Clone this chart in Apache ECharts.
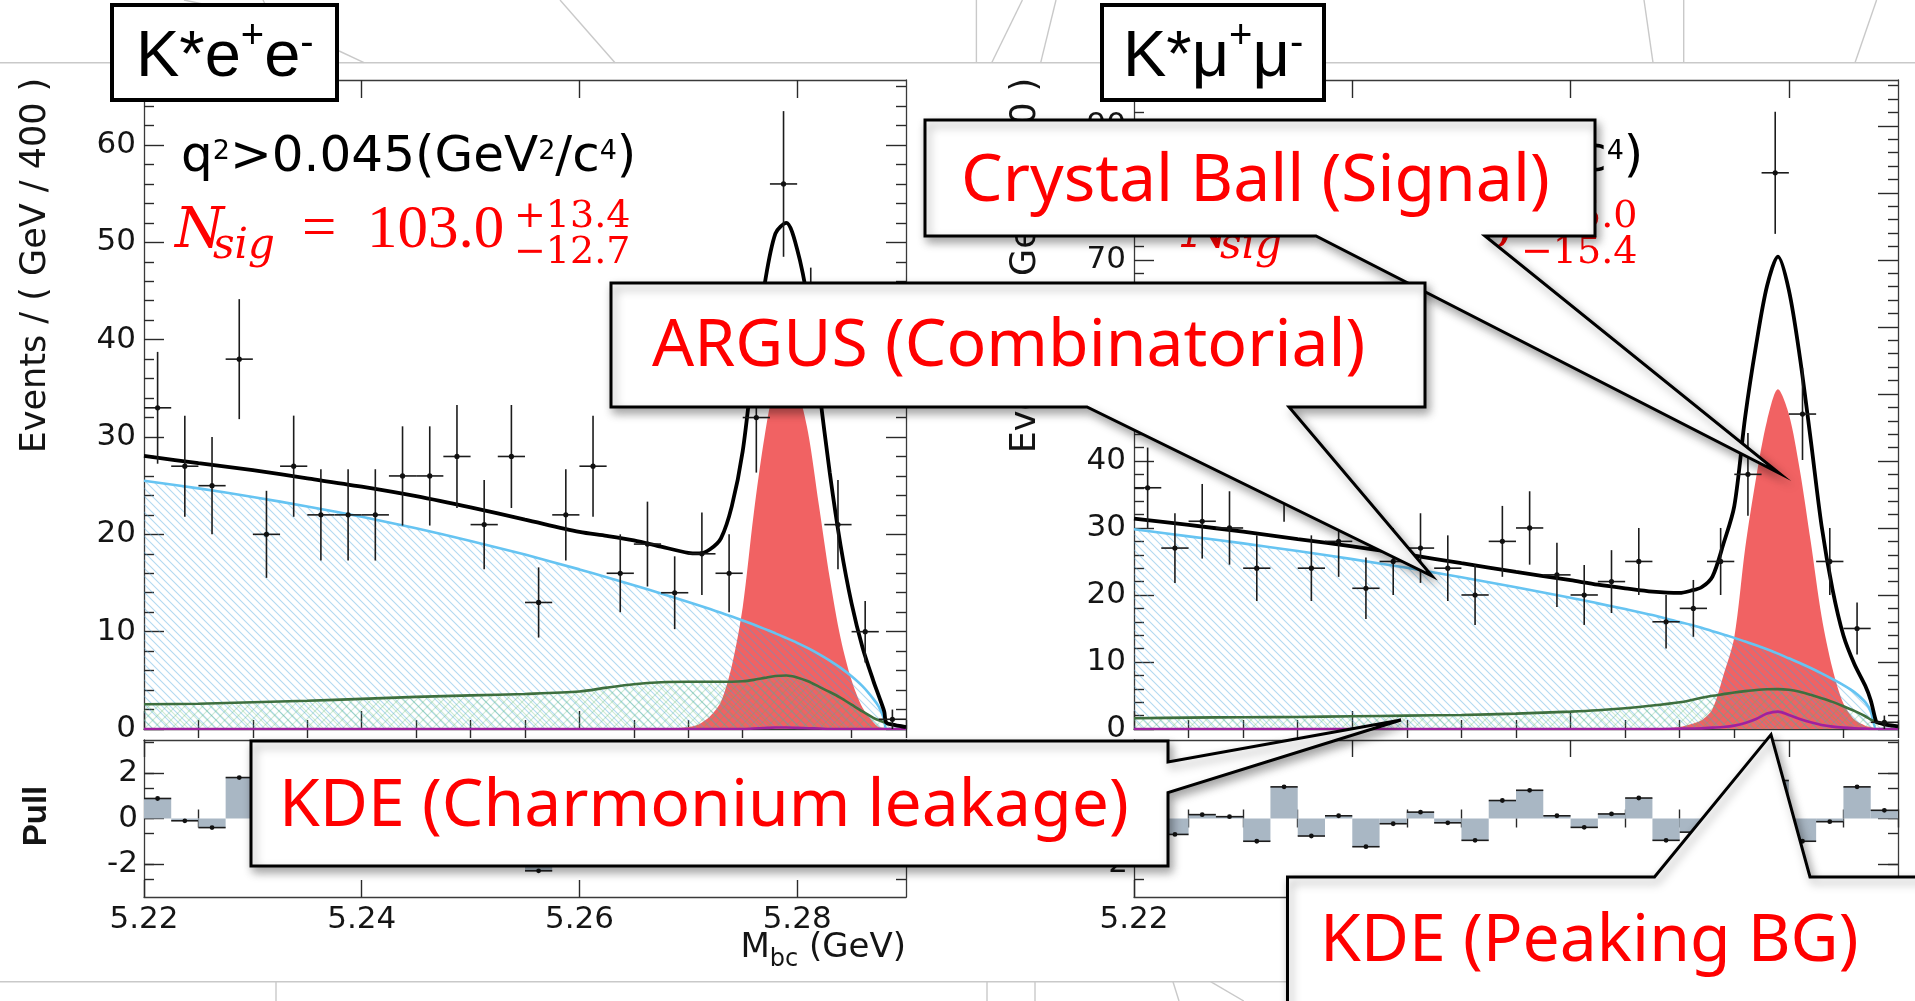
<!DOCTYPE html>
<html>
<head>
<meta charset="utf-8">
<script src="https://cdn.jsdelivr.net/npm/echarts@6/dist/echarts.min.js"></script>
<style>
  html, body { margin: 0; padding: 0; background: #fff; }
  #chart { width: 1915px; height: 1001px; }
</style>
</head>
<body>
<div id="chart"></div>
<script>
// ---- Mbc binning (GeV) ----
const X_MIN = 5.22, X_MAX = 5.29, BIN_W = 0.0025;

// ---- event counts per bin (28 bins) ----
const KEE_COUNTS = [33, 27, 25, 38, 20, 27, 22, 22, 22, 26, 26, 28, 21, 28, 13, 22, 27, 16, 19, 14, 18, 16, 32, 56, 41, 21, 10, 1];
const KMM_COUNTS = [36, 27, 31, 30, 24, 37, 24, 28, 21, 25, 27, 24, 20, 28, 30, 23, 20, 22, 25, 16, 18, 25, 38, 83, 47, 25, 15, 1];

// ---- pulls per bin ----
const KEE_PULLS = [0.88, -0.1, -0.4, 1.8, -1.4, 0.2, -0.77, -0.66, -0.58, 0.35, 0.45, 0.93, -0.33, 1.15, -2.3, 0.28, 1.3, -0.95, -0.07, -1.2, -0.07, -1.5, -0.7, 0.67, -0.15, 0.2, 0.3, 0.2];
const KMM_PULLS = [0.8, -0.7, 0.17, 0.08, -1.0, 1.39, -0.77, 0.12, -1.24, -0.23, 0.28, -0.19, -0.96, 0.79, 1.24, 0.12, -0.39, 0.2, 0.9, -0.96, -0.6, 0.3, -1.1, 1.67, -1.0, -0.14, 1.39, 0.36];

// ---- fitted model components, sampled in Mbc ----
const CURVE_X = [5.220, 5.225, 5.230, 5.235, 5.240, 5.245, 5.250, 5.255, 5.260, 5.2625, 5.265, 5.2675,
                 5.270, 5.271, 5.272, 5.273, 5.274, 5.275, 5.276, 5.277, 5.278, 5.279, 5.280, 5.281,
                 5.282, 5.283, 5.284, 5.285, 5.286, 5.287, 5.2875, 5.288, 5.2882, 5.289, 5.290];

const KEE_ARGUS  = [25.5, 24.72, 23.84, 22.86, 21.8, 20.62, 19.32, 17.92, 16.4, 15.6, 14.78, 13.93,
                    13.05, 12.69, 12.32, 11.94, 11.55, 11.15, 10.73, 10.29, 9.83, 9.35, 8.85, 8.3,
                    7.7, 7.03, 6.28, 5.42, 4.4, 3.1, 2.3, 1.0, 0, 0, 0];
const KEE_CHARM  = [2.55, 2.6, 2.75, 2.9, 3.1, 3.3, 3.45, 3.6, 3.85, 4.25, 4.6, 4.8,
                    4.85, 4.85, 4.85, 4.85, 4.85, 4.9, 5.05, 5.25, 5.45, 5.5, 5.3, 4.9,
                    4.35, 3.8, 3.2, 2.5, 1.8, 1.15, 0.9, 0.7, 0.65, 0.4, 0.2];
const KEE_SIGNAL = [0, 0, 0, 0, 0, 0, 0, 0, 0, 0, 0, 0,
                    0.2, 0.5, 1.3, 2.8, 6.5, 12.5, 22.0, 30.0, 35.5, 37.0, 35.0, 30.5,
                    23.0, 15.5, 9.3, 5.0, 2.2, 0.7, 0.2, 0.1, 0, 0, 0];
const KEE_PEAK   = [0, 0, 0, 0, 0, 0, 0, 0, 0, 0, 0, 0,
                    0, 0, 0, 0, 0, 0, 0.05, 0.1, 0.15, 0.15, 0.12, 0.08,
                    0.05, 0, 0, 0, 0, 0, 0, 0, 0, 0, 0];
const KEE_TOTAL  = [28.05, 27.32, 26.59, 25.76, 24.9, 23.92, 22.77, 21.52, 20.25, 19.85, 19.38, 18.73,
                    18.1, 18.04, 18.47, 19.59, 22.9, 28.55, 37.8, 45.6, 50.9, 52.0, 49.3, 43.8,
                    35.1, 26.3, 18.8, 12.9, 8.4, 4.95, 3.4, 1.8, 0.65, 0.4, 0.2];

const KMM_ARGUS  = [29.8, 28.75, 27.7, 26.55, 25.35, 24.05, 22.65, 21.15, 19.6, 18.75, 17.9, 17.0,
                    15.95, 15.55, 15.1, 14.6, 14.1, 13.6, 13.05, 12.5, 11.9, 11.25, 10.55, 9.85,
                    9.1, 8.3, 7.45, 6.55, 5.5, 4.0, 2.6, 0, 0, 0, 0];
const KMM_CHARM  = [1.6, 1.7, 1.75, 1.8, 1.9, 2.0, 2.1, 2.3, 2.6, 2.8, 3.1, 3.5,
                    4.0, 4.3, 4.65, 4.95, 5.2, 5.45, 5.65, 5.82, 5.93, 5.95, 5.85, 5.55,
                    5.1, 4.6, 4.05, 3.4, 2.7, 1.9, 1.4, 1.0, 0.9, 0.6, 0.4];
const KMM_SIGNAL = [0, 0, 0, 0, 0, 0, 0, 0, 0, 0, 0, 0,
                    0.3, 0.7, 1.3, 3.0, 8.0, 13.7, 27.0, 37.5, 46.0, 50.7, 47.0, 38.7,
                    28.0, 16.8, 9.0, 3.8, 1.4, 0.5, 0.3, 0.1, 0.05, 0, 0];
const KMM_PEAK   = [0, 0, 0, 0, 0, 0, 0, 0, 0, 0, 0, 0,
                    0.05, 0.08, 0.1, 0.2, 0.3, 0.5, 0.9, 1.5, 2.3, 2.6, 2.1, 1.5,
                    1.0, 0.6, 0.35, 0.2, 0.1, 0.05, 0, 0, 0, 0, 0];
const KMM_TOTAL  = [31.4, 30.45, 29.45, 28.35, 27.25, 26.05, 24.75, 23.45, 22.2, 21.55, 21.0, 20.5,
                    20.3, 20.63, 21.15, 22.75, 27.6, 33.25, 46.6, 57.3, 66.1, 70.5, 65.5, 55.6,
                    43.2, 30.3, 20.85, 13.95, 9.7, 6.45, 4.3, 1.1, 0.95, 0.6, 0.4];

// ---- axis ranges and tick values ----
const KEE_Y_MAX = 66.68, KMM_Y_MAX = 96.85, PULL_LIM = 3.45;
const X_MAJOR = [5.22, 5.24, 5.26, 5.28];
const KEE_Y_MAJOR = [0, 10, 20, 30, 40, 50, 60];
const KMM_Y_MAJOR = [0, 10, 20, 30, 40, 50, 60, 70, 80, 90];
const PULL_MAJOR = [-2, 0, 2];

function minorTicks(start, end, step, majorEvery) {
  const out = [];
  for (let k = 0; start + k * step <= end + 1e-9; k++) {
    if (k % majorEvery !== 0) out.push(+(start + k * step).toFixed(4));
  }
  return out;
}
const X_MINOR = minorTicks(5.22, 5.29, 0.005, 4);
const KEE_Y_MINOR = minorTicks(0, 66, 2, 5);
const KMM_Y_MINOR = minorTicks(0, 96, 2, 5);
const PULL_MINOR = minorTicks(-10 / 3, 10 / 3, 2 / 3, 3);

// ---- hatch fills ----
function hatch(color, size, dirs) {
  const c = document.createElement('canvas');
  c.width = c.height = size;
  const g = c.getContext('2d');
  g.strokeStyle = color;
  g.lineWidth = 1.1;
  const seg = (a, b, p, q) => { g.beginPath(); g.moveTo(a, b); g.lineTo(p, q); g.stroke(); };
  if (dirs.includes('\\')) {
    seg(-1, -1, size + 1, size + 1);
    seg(size - 1, -1, size + 1, 1);
    seg(-1, size - 1, 1, size + 1);
  }
  if (dirs.includes('/')) {
    seg(-1, size + 1, size + 1, -1);
    seg(-1, 1, 1, -1);
    seg(size - 1, size + 1, size + 1, size - 1);
  }
  return { image: c, repeat: 'repeat' };
}
const BLUE_HATCH = hatch('rgba(70,165,220,0.42)', 8, ['\\']);
const GREEN_HATCH = hatch('rgba(90,185,115,0.3)', 9, ['\\', '/']);

// ---- axes ----
const FRAME = { show: true, onZero: false, lineStyle: { color: '#3a3a3a', width: 1.3 } };
const TICK_STYLE = { color: '#2a2a2a', width: 1.4 };
const LABEL_BASE = { fontFamily: 'DejaVu Sans', fontSize: 31, color: '#151515' };
const xAxes = [], yAxes = [];

function axisSet(list, base, gridIndex, sides, majors, minors, majLen, minLen, label) {
  let first = -1;
  sides.forEach((pos, k) => {
    [[majors, majLen], [minors, minLen]].forEach(([vals, len], m) => {
      list.push(Object.assign({}, base, {
        gridIndex, position: pos,
        axisLine: m === 0 ? FRAME : { show: false },
        axisTick: { show: true, inside: true, length: len, customValues: vals, lineStyle: TICK_STYLE },
        axisLabel: (k === 0 && m === 0 && label) ? Object.assign({ show: true, customValues: majors }, LABEL_BASE, label) : { show: false },
        splitLine: { show: false },
        axisPointer: { show: false }
      }));
      if (first < 0) first = list.length - 1;
    });
  });
  return first;
}

const X_BASE = { type: 'value', min: X_MIN, max: X_MAX };
const fmtX = v => v.toFixed(2);
const fmtY = v => String(Math.round(v));
const fmtPull = v => (v < 0 ? '-' + Math.round(-v) : String(Math.round(v)));

const AX = [];
// 0: K* e e main, 1: K* e e pull, 2: K* mu mu main, 3: K* mu mu pull
[[KEE_Y_MAX, KEE_Y_MAJOR, KEE_Y_MINOR], [KMM_Y_MAX, KMM_Y_MAJOR, KMM_Y_MINOR]].forEach(([ymax, yMaj, yMin], p) => {
  const gMain = p * 2, gPull = p * 2 + 1;
  AX[gMain] = {
    x: axisSet(xAxes, X_BASE, gMain, ['bottom', 'top'], X_MAJOR, X_MINOR, 18, 9, null),
    y: axisSet(yAxes, { type: 'value', min: 0, max: ymax }, gMain, ['left', 'right'], yMaj, yMin, 20, 10,
               { margin: 8, formatter: fmtY })
  };
  AX[gPull] = {
    x: axisSet(xAxes, X_BASE, gPull, ['bottom', 'top'], X_MAJOR, X_MINOR, 17, 9,
               { margin: 7, formatter: fmtX }),
    y: axisSet(yAxes, { type: 'value', min: -PULL_LIM, max: PULL_LIM }, gPull, ['left', 'right'], PULL_MAJOR, PULL_MINOR, 20, 10,
               { margin: 6, formatter: fmtPull })
  };
});

// ---- series ----
function curve(g, ys, line, area, z) {
  const s = {
    type: 'line', xAxisIndex: AX[g].x, yAxisIndex: AX[g].y,
    data: CURVE_X.map((x, i) => [x, ys[i]]),
    showSymbol: false, symbol: 'none', smooth: 0.3,
    lineStyle: line, z, silent: true, animation: false
  };
  if (area) s.areaStyle = area;
  return s;
}

function dataPoints(g, counts) {
  return {
    type: 'custom', xAxisIndex: AX[g].x, yAxisIndex: AX[g].y, z: 7, silent: true, animation: false,
    data: counts.map((n, i) => [X_MIN + (i + 0.5) * BIN_W, n]),
    renderItem(params, api) {
      const xc = api.value(0), n = api.value(1), e = Math.sqrt(n), h = BIN_W / 2;
      const L = api.coord([xc - h, n]), R = api.coord([xc + h, n]);
      const T = api.coord([xc, n + e]), B = api.coord([xc, Math.max(n - e, 0)]), C = api.coord([xc, n]);
      const st = { stroke: '#1c1c1c', lineWidth: 1.6 };
      return {
        type: 'group', children: [
          { type: 'line', shape: { x1: L[0], y1: L[1], x2: R[0], y2: R[1] }, style: st },
          { type: 'line', shape: { x1: T[0], y1: T[1], x2: B[0], y2: B[1] }, style: st },
          { type: 'circle', shape: { cx: C[0], cy: C[1], r: 2.6 }, style: { fill: '#111' } }
        ]
      };
    }
  };
}

function pullBars(g, pulls) {
  return {
    type: 'custom', xAxisIndex: AX[g].x, yAxisIndex: AX[g].y, z: 4, silent: true, animation: false,
    data: pulls.map((p, i) => [X_MIN + (i + 0.5) * BIN_W, p]),
    renderItem(params, api) {
      const xc = api.value(0), p = api.value(1), h = BIN_W / 2;
      const A = api.coord([xc - h, 0]), Bc = api.coord([xc + h, p]), C = api.coord([xc, p]);
      const L = api.coord([xc - h, p]);
      return {
        type: 'group', children: [
          { type: 'rect', shape: { x: Math.min(A[0], Bc[0]), y: Math.min(A[1], Bc[1]), width: Math.abs(Bc[0] - A[0]), height: Math.abs(Bc[1] - A[1]) },
            style: { fill: '#a9b7c4' } },
          { type: 'line', shape: { x1: L[0], y1: L[1], x2: Bc[0], y2: Bc[1] }, style: { stroke: '#1c1c1c', lineWidth: 1.6 } },
          { type: 'circle', shape: { cx: C[0], cy: C[1], r: 2.4 }, style: { fill: '#111' } }
        ]
      };
    }
  };
}

const series = [];
[[0, KEE_ARGUS, KEE_CHARM, KEE_SIGNAL, KEE_PEAK, KEE_TOTAL, KEE_COUNTS, 1, KEE_PULLS],
 [2, KMM_ARGUS, KMM_CHARM, KMM_SIGNAL, KMM_PEAK, KMM_TOTAL, KMM_COUNTS, 3, KMM_PULLS]].forEach(
  ([g, argus, charm, signal, peak, total, counts, gp, pulls]) => {
    series.push(curve(g, signal, { width: 0, opacity: 0 }, { color: '#f16263', opacity: 1 }, 2));
    series.push(curve(g, argus, { color: '#66c4f2', width: 2.6 }, { color: BLUE_HATCH, opacity: 1 }, 3));
    series.push(curve(g, charm, { color: '#3e6f3e', width: 2.6 }, { color: GREEN_HATCH, opacity: 1 }, 4));
    series.push(curve(g, peak, { color: '#a0209f', width: 2.6 }, null, 5));
    series.push(curve(g, total, { color: '#000', width: 3.8 }, null, 6));
    series.push(dataPoints(g, counts));
    series.push(pullBars(gp, pulls));
  });

// ---- text helpers ----
const mctx = document.createElement('canvas').getContext('2d');
const MID = { 'DejaVu Sans': 0.346, 'DejaVu Serif': 0.346, 'Liberation Serif': 0.3375,
              'Liberation Sans': 0.3465, 'Noto Sans': 0.388 };
function fontStr(p) { return (p.i ? 'italic ' : '') + (p.bold ? 'bold ' : '') + p.s + 'px "' + p.f + '"'; }
function measure(p) { mctx.font = fontStr(p); return mctx.measureText(p.t).width; }
function textEl(p, x, z) {
  return {
    type: 'text', x, y: p.b - MID[p.f] * p.s, z, silent: true,
    style: { text: p.t, fontSize: p.s, fontFamily: p.f, fontStyle: p.i ? 'italic' : 'normal',
             fontWeight: p.bold ? 'bold' : 'normal', fill: p.c || '#000',
             align: 'left', verticalAlign: 'middle', textAlign: 'left', textVerticalAlign: 'middle' }
  };
}
function chain(x0, pieces, z) {
  let x = x0;
  return pieces.map(p => { const el = textEl(p, x, z); x += measure(p); return el; });
}
function rotated(str, x, y, fs, fam, z, bold) {
  return {
    type: 'text', x, y, rotation: Math.PI / 2, z, silent: true,
    style: { text: str, fontSize: fs, fontFamily: fam, fontWeight: bold ? 'bold' : 'normal', fill: '#141414',
             align: 'center', verticalAlign: 'middle', textAlign: 'center', textVerticalAlign: 'middle' }
  };
}

const PANEL_SHIFT = 990;          // frame offset of the K* mu mu panel
const NOTE_SHIFT = 1007;          // offset of its in-frame annotations
const RED = '#ff0000';
const elements = [];

// faint slide decoration lines
[[0, 62.7, 1915, 62.7], [184, 0, 212, 6], [263, 0, 266, 6], [337, 50, 364, 62.7], [560, 0, 615, 62.7],
 [976.4, 0, 976.4, 62.7], [991.7, 62.7, 1022.4, 0], [1040.7, 62.7, 1056, 0], [1653, 62.7, 1644, 0],
 [1683.7, 0, 1683.7, 62.7], [1855, 62.7, 1876.6, 0],
 [0, 981.7, 1300, 981.7], [276, 981.7, 276, 1001], [987, 981.7, 987, 1001], [1035, 981.7, 1035, 1001],
 [1173, 981.7, 1179, 1001], [1210.6, 981.7, 1243.8, 1001]].forEach(([a, b, c, d]) => {
  elements.push({ type: 'line', z: 0, silent: true, shape: { x1: a, y1: b, x2: c, y2: d },
                  style: { stroke: '#c9c9c9', lineWidth: 1.4 } });
});

[0, PANEL_SHIFT].forEach(dx => {
  // the pull pad hides the lower part of the main panel's "0" label
  elements.push({ type: 'rect', z: 1, silent: true, shape: { x: 60 + dx, y: 737.5, width: 83, height: 4.5 }, style: { fill: '#fff' } });
  elements.push(rotated('Events / ( GeV / 400 )', 36 + dx, 265.5, 35, 'DejaVu Sans', 40));
  elements.push(rotated('Pull', 37 + dx, 816, 33, 'Liberation Sans', 40, true));
  const mbc = [
    { t: 'M', s: 34, b: 960, f: 'DejaVu Sans', c: '#141414' },
    { t: 'bc', s: 24, b: 968, f: 'DejaVu Sans', c: '#141414' },
    { t: ' (GeV)', s: 34, b: 960, f: 'DejaVu Sans', c: '#141414' }
  ];
  const w = mbc.reduce((acc, p) => acc + measure(p), 0);
  elements.push(...chain(906 + dx - w, mbc, 40));
});

// q^2 selection and fitted yield
[[0, '103.0', '+13.4', '\u221212.7'], [NOTE_SHIFT, '128.0', '+15.0', '\u221215.4']].forEach(([dx, nsig, up, dn]) => {
  const F = 'DejaVu Sans';
  elements.push(...chain(181 + dx, [
    { t: 'q', s: 50, b: 175, f: F }, { t: '2', s: 27, b: 161, f: F },
    { t: '>0.045(GeV', s: 50, b: 175, f: F }, { t: '2', s: 27, b: 161, f: F },
    { t: '/c', s: 50, b: 175, f: F }, { t: '4', s: 27, b: 161, f: F },
    { t: ')', s: 50, b: 175, f: F }
  ], 40));
  elements.push(textEl({ t: 'N', s: 56, b: 252, f: 'DejaVu Serif', i: true, c: RED }, 175 + dx, 40));
  elements.push(textEl({ t: 'sig', s: 42, b: 262, f: 'DejaVu Serif', i: true, c: RED }, 213 + dx, 40));
  elements.push(textEl({ t: '=', s: 61, b: 252, f: 'Liberation Serif', c: RED }, 302 + dx, 40));
  elements.push(textEl({ t: nsig, s: 61, b: 252, f: 'Liberation Serif', c: RED }, 367 + dx, 40));
  elements.push(textEl({ t: up, s: 38, b: 230, f: 'DejaVu Serif', c: RED }, 514 + dx, 40));
  elements.push(textEl({ t: dn, s: 38, b: 266.5, f: 'DejaVu Serif', c: RED }, 514 + dx, 40));
});

// callouts naming the fit components
const CALLOUT_STYLE = { fill: '#fff', stroke: '#000', lineWidth: 3, lineJoin: 'miter',
                        shadowBlur: 10, shadowColor: 'rgba(0,0,0,0.35)', shadowOffsetX: 3, shadowOffsetY: 5 };
const CALLOUTS = [
  { pts: [[925, 120], [1595, 120], [1595, 236], [1485, 236], [1779, 473], [1316, 236], [925, 236]],
    label: 'Crystal Ball (Signal)', x: 961, b: 208 },
  { pts: [[611, 283], [1425, 283], [1425, 407], [1289, 407], [1432, 576], [1087, 407], [611, 407]],
    label: 'ARGUS (Combinatorial)', x: 652, b: 373 },
  { pts: [[251, 741], [1168, 741], [1168, 762], [1401, 720], [1168, 792.6], [1168, 866], [251, 866]],
    label: 'KDE (Charmonium leakage)', x: 279, b: 833 },
  { pts: [[1287.5, 877], [1654.5, 877], [1771, 734.6], [1810, 877], [1935, 877], [1935, 1025], [1287.5, 1025]],
    label: 'KDE (Peaking BG)', x: 1320, b: 968 }
];
CALLOUTS.forEach((c, k) => {
  elements.push({ type: 'polygon', z: 100 + 2 * k, silent: true, shape: { points: c.pts }, style: CALLOUT_STYLE });
  elements.push(textEl({ t: c.label, s: 66, b: c.b, f: 'Noto Sans', c: RED }, c.x, 101 + 2 * k));
});

// decay-channel tags
[[112, 5, 225, 95, 136, 'K*e', 'e'], [1102, 5, 222, 95, 1123, 'K*\u03bc', '\u03bc']].forEach(([bx, by, bw, bh, tx, a, b]) => {
  elements.push({ type: 'rect', z: 110, silent: true, shape: { x: bx, y: by, width: bw, height: bh },
                  style: { fill: '#fff', stroke: '#000', lineWidth: 4 } });
  const L = 'Liberation Sans';
  elements.push(...chain(tx, [
    { t: a, s: 65, b: 81, f: L }, { t: '+', s: 40, b: 51, f: L },
    { t: b, s: 65, b: 81, f: L }, { t: '-', s: 40, b: 58, f: L }
  ], 111));
});

const grids = [
  { left: 144, top: 80, width: 762, height: 649 },
  { left: 144, top: 740, width: 762, height: 157 },
  { left: 1134, top: 80, width: 764, height: 649 },
  { left: 1134, top: 740, width: 764, height: 157 }
].map(g => Object.assign({ containLabel: false, outerBoundsMode: 'none', show: false }, g));

const chart = echarts.init(document.getElementById('chart'), null, { renderer: 'canvas' });
chart.setOption({
  animation: false,
  backgroundColor: '#ffffff',
  grid: grids,
  xAxis: xAxes,
  yAxis: yAxes,
  series,
  graphic: { elements }
});
</script>
</body>
</html>
